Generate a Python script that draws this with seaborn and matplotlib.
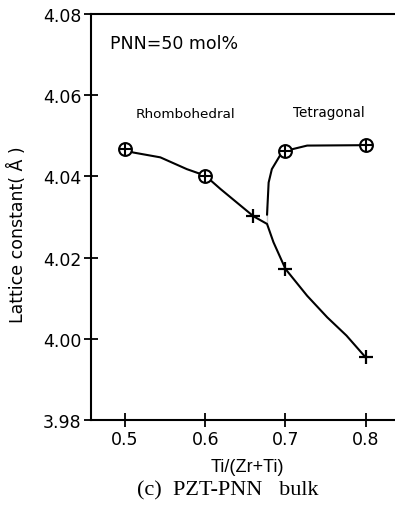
import matplotlib
matplotlib.use("Agg")
import matplotlib.pyplot as plt
import seaborn as sns
import pandas as pd

# Data (curve traced through points)
rhombo_x = [0.500, 0.510, 0.544, 0.577, 0.600, 0.619, 0.660, 0.677,
            0.685, 0.700, 0.727, 0.752, 0.776, 0.800]
rhombo_y = [4.0467, 4.0459, 4.0447, 4.0418, 4.0402, 4.0369, 4.0302, 4.0283,
            4.0238, 4.0172, 4.0106, 4.0053, 4.0008, 3.9954]
tetra_x = [0.677, 0.677, 0.679, 0.683, 0.693, 0.700, 0.727, 0.800]
tetra_y = [4.0283, 4.0328, 4.0385, 4.0418, 4.0451, 4.0463, 4.0476, 4.0477]
circle_x = [0.50, 0.60, 0.70, 0.80]
circle_y = [4.0467, 4.0402, 4.0463, 4.0477]
plus_x = [0.66, 0.70, 0.80]
plus_y = [4.0302, 4.0172, 3.9954]
xticks = [0.5, 0.6, 0.7, 0.8]
yticks = [3.98, 4.00, 4.02, 4.04, 4.06, 4.08]

sns.set_style("ticks")
plt.rcParams['font.family'] = ['DejaVu Sans']
plt.rcParams['text.color'] = 'black'
plt.rcParams['axes.labelcolor'] = 'black'

fig = plt.figure(figsize=(3.95, 5.10), dpi=100)
ax = fig.add_axes([0.2304, 0.1745, 0.7696, 0.796])

df_r = pd.DataFrame({"x": rhombo_x, "y": rhombo_y})
df_t = pd.DataFrame({"x": tetra_x, "y": tetra_y})
sns.lineplot(data=df_r, x="x", y="y", sort=False, color="black", lw=1.5, ax=ax)
sns.lineplot(data=df_t, x="x", y="y", sort=False, color="black", lw=1.5, ax=ax)

df_c = pd.DataFrame({"x": circle_x, "y": circle_y})
sns.scatterplot(data=df_c, x="x", y="y", marker="o", s=85, facecolor="white",
                edgecolor="black", linewidth=1.5, ax=ax, zorder=3)
sns.scatterplot(data=df_c, x="x", y="y", marker="+", s=85, color="black",
                linewidth=1.5, ax=ax, zorder=4)
df_p = pd.DataFrame({"x": plus_x, "y": plus_y})
sns.scatterplot(data=df_p, x="x", y="y", marker="+", s=90, color="black",
                linewidth=1.6, ax=ax, zorder=4)

ax.set_xlim(0.4576, 0.8365)
ax.set_ylim(3.98, 4.08)
ax.set_xticks(xticks)
ax.set_yticks(yticks)
ax.set_xticklabels([f"{v:.1f}" for v in xticks])
ax.set_yticklabels([f"{v:.2f}" for v in yticks])
ax.tick_params(direction="inout", length=10, width=1.3, labelsize=12.5,
               colors="black", labelcolor="black", pad=2)
for s in ["left", "bottom", "top"]:
    ax.spines[s].set_linewidth(1.5)
    ax.spines[s].set_color("black")
ax.spines["right"].set_visible(False)

ax.set_xlabel("Ti/(Zr+Ti)", fontsize=13, color="black",
              family=["Liberation Sans", "DejaVu Sans"])
ax.xaxis.set_label_coords(0.513, -0.094)
ax.set_ylabel("Lattice constant( Å )", fontsize=12.5, color="black")
ax.yaxis.set_label_coords(-0.212, 0.458)

ax.text(0.4813, 4.0728, "PNN=50 mol%", fontsize=12.5, va="center", ha="left")
ax.text(0.5748, 4.0556, "Rhombohedral", fontsize=9.7, va="center", ha="center")
ax.text(0.7537, 4.0559, "Tetragonal", fontsize=9.8, va="center", ha="center")

fig.text(0.577, 0.038, "(c)  PZT-PNN   bulk", fontsize=16, ha="center", va="center",
         family=["Liberation Serif", "DejaVu Serif"])

fig.savefig("out.png", dpi=100)
